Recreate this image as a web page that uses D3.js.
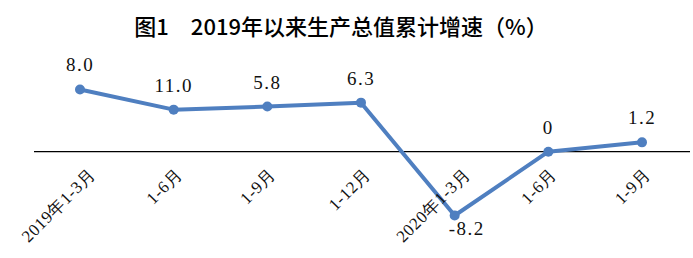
<!DOCTYPE html>
<html>
<head>
<meta charset="utf-8">
<script src="https://cdn.jsdelivr.net/npm/d3@7"></script>
<style>
  body { margin: 0; background: #fff; }
  .title { font-family: "Noto Sans CJK SC", sans-serif; font-size: 22px; font-weight: 500; fill: #000; }
  .val { font-family: "Liberation Serif", "Times New Roman", serif; font-size: 19px; letter-spacing: 1.5px; fill: #111; }
  .cat { font-family: "Liberation Serif", "Times New Roman", serif; font-size: 17px; letter-spacing: 0.6px; fill: #111; }
</style>
</head>
<body>
<div id="chart"></div>
<script>
let categories = ["2019年1-3月", "1-6月", "1-9月", "1-12月", "2020年1-3月", "1-6月", "1-9月"];
// plotted positions (the 1-6月 point sits lower than its label says)
let values = [8.0, 5.4, 5.8, 6.3, -8.2, 0, 1.2];
let valueLabels = ["8.0", "11.0", "5.8", "6.3", "-8.2", "0", "1.2"];
let title = "图1\u30002019年以来生产总值累计增速（%）";

let width = 693, height = 258;

let svg = d3.select("#chart")
    .append("svg")
    .attr("width", width)
    .attr("height", height);

let x = d3.scalePoint()
    .domain(d3.range(categories.length))
    .range([80, 642]);

let y = d3.scaleLinear()
    .domain([-10, 12])
    .range([229.5, 58.3]);

svg.append("text")
    .attr("class", "title")
    .attr("x", 341)
    .attr("y", 35)
    .attr("text-anchor", "middle")
    .text(title);

// zero line
svg.append("line")
    .attr("x1", 34)
    .attr("x2", 690)
    .attr("y1", y(0))
    .attr("y2", y(0))
    .attr("stroke", "#000")
    .attr("stroke-width", 1.3);

let line = d3.line()
    .x((d, i) => x(i))
    .y(d => y(d));

svg.append("path")
    .datum(values)
    .attr("fill", "none")
    .attr("stroke", "#4f7fc0")
    .attr("stroke-width", 4)
    .attr("stroke-linejoin", "round")
    .attr("d", line);

svg.selectAll("circle.pt")
    .data(values)
    .enter()
    .append("circle")
    .attr("class", "pt")
    .attr("cx", (d, i) => x(i))
    .attr("cy", d => y(d))
    .attr("r", 5)
    .attr("fill", "#4f7fc0");

// category labels, rotated; longer labels sit a little further right
let cats = svg.selectAll("text.cat")
    .data(categories)
    .enter()
    .append("text")
    .attr("class", "cat")
    .attr("text-anchor", "end")
    .attr("dy", "0.7em")
    .text(d => d);

cats.attr("transform", function(d, i) {
    let len = this.getComputedTextLength();
    let shift = 0.13 * (len - 50);
    return `translate(${x(i) + 2 + shift}, 167) rotate(-45)`;
});

svg.selectAll("text.val")
    .data(values)
    .enter()
    .append("text")
    .attr("class", "val")
    .attr("text-anchor", "middle")
    .attr("x", (d, i) => x(i) + (d < 0 ? 12 : 0))
    .attr("y", d => d < 0 ? y(d) + 20 : y(d) - 18)
    .text((d, i) => valueLabels[i]);
</script>
</body>
</html>
